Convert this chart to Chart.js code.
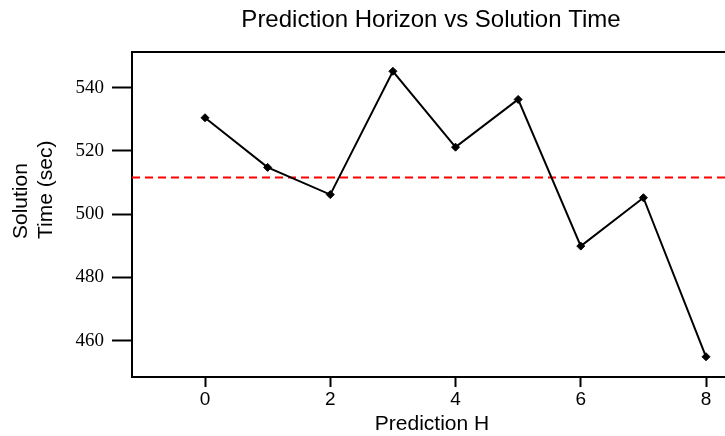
<!DOCTYPE html>
<html>
<head>
<meta charset="utf-8">
<script src="https://cdn.jsdelivr.net/npm/chart.js@4/dist/chart.umd.min.js"></script>
<style>
  html, body { margin: 0; padding: 0; background: #ffffff; }
  #wrap { width: 725px; height: 436px; }
</style>
</head>
<body>
<div id="wrap"><canvas id="chart" width="725" height="436"></canvas></div>
<script>
// Prediction horizon vs solve time
const horizons = [0, 1, 2, 3, 4, 5, 6, 7, 8];
const solveTimes = [530.5, 514.8, 506.2, 545.2, 521.2, 536.3, 489.9, 505.2, 454.9];
const meanTime = 511.6;

const xTickValues = [0, 2, 4, 6, 8];
const yTickValues = [460, 480, 500, 520, 540];

const xRange = [-1.166, 8.303];
const yRange = [448.5, 551.3];

const titleText = 'Prediction Horizon vs Solution Time';
const xTitle = 'Prediction H';
const yTitleLines = ['Solution', 'Time (sec)'];

const sans = "'Liberation Sans', Arial, sans-serif";
const serif = "'Liberation Serif', 'Times New Roman', serif";

// Titles and the top frame edge
const decorations = {
  id: 'decorations',
  afterDraw(chart) {
    const ctx = chart.ctx;
    const a = chart.chartArea;
    ctx.save();
    // top frame line
    ctx.strokeStyle = '#000';
    ctx.lineWidth = 2;
    ctx.beginPath();
    ctx.moveTo(a.left - 1, a.top);
    ctx.lineTo(a.right, a.top);
    ctx.stroke();

    ctx.fillStyle = '#000';
    ctx.textBaseline = 'alphabetic';
    // chart title
    ctx.font = '24px ' + sans;
    ctx.textAlign = 'center';
    ctx.fillText(titleText, 431, 27);
    // x axis title
    ctx.font = '21px ' + sans;
    ctx.fillText(xTitle, 432, 430);
    // y axis title (two lines, rotated)
    ctx.translate(0, 239);
    ctx.rotate(-Math.PI / 2);
    ctx.textAlign = 'left';
    ctx.fillText(yTitleLines[0], 0, 27);
    ctx.fillText(yTitleLines[1], 0, 52);
    ctx.restore();
  }
};

new Chart(document.getElementById('chart'), {
  type: 'line',
  data: {
    datasets: [
      {
        data: horizons.map((h, i) => ({ x: h, y: solveTimes[i] })),
        borderColor: '#000',
        backgroundColor: '#000',
        borderWidth: 2,
        pointStyle: 'rectRot',
        pointRadius: 4,
        pointBorderWidth: 1,
        tension: 0,
        fill: false
      },
      {
        data: [{ x: xRange[0], y: meanTime }, { x: xRange[1], y: meanTime }],
        borderColor: '#ff0000',
        borderWidth: 2,
        borderDash: [8, 5],
        pointRadius: 0,
        fill: false
      }
    ]
  },
  options: {
    responsive: false,
    animation: false,
    layout: { autoPadding: false, padding: { left: 0, top: 52, right: 0, bottom: 0 } },
    plugins: {
      legend: { display: false },
      title: { display: false },
      tooltip: { enabled: false }
    },
    scales: {
      x: {
        type: 'linear',
        min: xRange[0],
        max: xRange[1],
        afterBuildTicks(scale) { scale.ticks = xTickValues.map(v => ({ value: v })); },
        afterFit(scale) {
          scale.height = 59;
          scale.paddingLeft = 0;
          scale.paddingRight = 0;
        },
        grid: {
          drawOnChartArea: false,
          drawTicks: true,
          tickLength: 10,
          tickWidth: 2,
          tickColor: '#000'
        },
        border: { display: true, color: '#000', width: 2 },
        ticks: {
          color: '#000',
          padding: 1,
          maxRotation: 0,
          font: { family: sans, size: 19 }
        }
      },
      y: {
        type: 'linear',
        min: yRange[0],
        max: yRange[1],
        afterBuildTicks(scale) { scale.ticks = yTickValues.map(v => ({ value: v })); },
        afterFit(scale) {
          scale.width = 132;
          scale.paddingTop = 0;
          scale.paddingBottom = 0;
        },
        grid: {
          drawOnChartArea: false,
          drawTicks: true,
          tickLength: 20,
          tickWidth: 2,
          tickColor: '#000'
        },
        border: { display: true, color: '#000', width: 2 },
        ticks: {
          color: '#000',
          padding: 8,
          font: { family: serif, size: 19 }
        }
      }
    }
  },
  plugins: [decorations]
});
</script>
</body>
</html>
